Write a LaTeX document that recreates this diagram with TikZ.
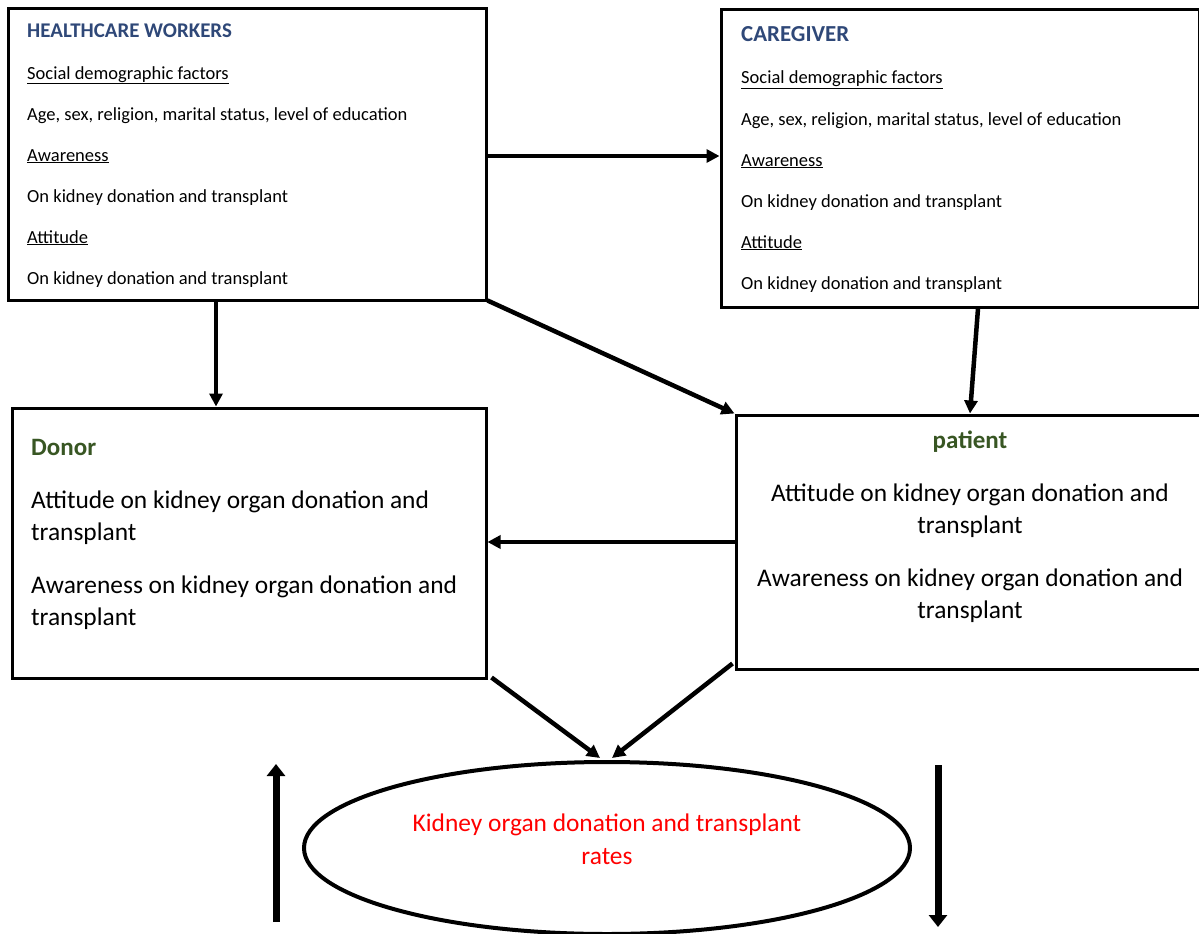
\documentclass[tikz,border=0pt]{standalone}
\usepackage{fontspec}
\setmainfont{Carlito}
\usetikzlibrary{shapes.geometric,arrows.meta,calc}
\definecolor{hblue}{RGB}{47,72,120}
\definecolor{dgreen}{RGB}{56,86,35}
\begin{document}
\begin{tikzpicture}[x=1pt,y=-1pt,
  boxx/.style={draw=black,line width=3pt,rectangle,inner sep=0pt},
  sm/.style={anchor=base west,inner sep=0pt,font=\fontsize{18.5}{21}\selectfont},
  big/.style={inner sep=0pt,font=\fontsize{25.4}{29}\selectfont},
  conn/.style={line width=4.5pt,-{Triangle[length=13pt,width=13pt]}},
]
\useasboundingbox (0,0) rectangle (1199,934);
% boxes
\node[boxx,minimum width=478pt,minimum height=291pt] (hcw) at (247,154.5) {};
\node[boxx,minimum width=478pt,minimum height=297pt] (cg) at (960,158.5) {};
\node[boxx,minimum width=474pt,minimum height=270pt] (donor) at (249,543) {};
\node[boxx,minimum width=464pt,minimum height=254pt] (patient) at (968,542) {};
\node[draw=black,line width=4pt,ellipse,minimum width=606pt,minimum height=172pt,inner sep=0pt] (ell) at (607,848) {};
% HCW texts
\node[sm,anchor=base west,font=\fontsize{20.9}{24}\selectfont\bfseries,text=hblue] (h0) at (27,38) {HEALTHCARE WORKERS};
\node[sm] (h1) at (27,79) {\underline{Social demographic factors}};
\node[sm] (h2) at (27,120) {Age, sex, religion, marital status, level of education};
\node[sm] (h3) at (27,161) {\underline{Awareness}};
\node[sm] (h4) at (27,202) {On kidney donation and transplant};
\node[sm] (h5) at (27,243) {\underline{Attitude}};
\node[sm] (h6) at (27,284) {On kidney donation and transplant};
% Caregiver texts
\node[sm,font=\fontsize{22.9}{26}\selectfont\bfseries,text=hblue] (c0) at (741,42) {CAREGIVER};
\node[sm] (c1) at (741,84) {\underline{Social demographic factors}};
\node[sm] (c2) at (741,125) {Age, sex, religion, marital status, level of education};
\node[sm] (c3) at (741,166) {\underline{Awareness}};
\node[sm] (c4) at (741,207) {On kidney donation and transplant};
\node[sm] (c5) at (741,248) {\underline{Attitude}};
\node[sm] (c6) at (741,289) {On kidney donation and transplant};
% Donor texts
\node[big,anchor=base west,font=\fontsize{25}{29}\selectfont\bfseries,text=dgreen] (d0) at (31,455) {Donor};
\node[big,anchor=base west] (d1) at (31,508) {Attitude on kidney organ donation and};
\node[big,anchor=base west] (d2) at (31,540) {transplant};
\node[big,anchor=base west] (d3) at (31,593) {Awareness on kidney organ donation and};
\node[big,anchor=base west] (d4) at (31,625) {transplant};
% Patient texts
\node[big,anchor=base,font=\fontsize{25}{29}\selectfont\bfseries,text=dgreen] (p0) at (970,448) {patient};
\node[big,anchor=base] (p1) at (970,501) {Attitude on kidney organ donation and};
\node[big,anchor=base] (p2) at (970,533) {transplant};
\node[big,anchor=base] (p3) at (970,586) {Awareness on kidney organ donation and};
\node[big,anchor=base] (p4) at (970,618) {transplant};
% Ellipse texts
\node[big,anchor=base,text=red] (e1) at (607,831) {Kidney organ donation and transplant};
\node[big,anchor=base,text=red] (e2) at (607,864) {rates};
% connectors
\draw[conn] ([yshift=-1.5pt]hcw.east) -- ([yshift=-1.5pt]hcw.east -| cg.west);
\draw[conn] ([xshift=-31pt]hcw.south) -- ([xshift=-31pt]hcw.south |- donor.north);
\draw[conn] ([yshift=1pt]hcw.south east) -- (patient.north west);
\draw[conn] ([xshift=18pt]cg.south) -- ([xshift=2pt]patient.north);
\draw[conn] (patient.west) -- (patient.west -| donor.east);
\draw[conn] ([shift={(4pt,2pt)}]donor.south east) -- ([shift={(-7pt,2pt)}]ell.north);
\draw[conn] ([shift={(-2pt,7pt)}]patient.south west) -- ([shift={(5pt,2pt)}]ell.north);
% free arrows
\coordinate (u1) at (276,922);
\coordinate (u2) at (276,764);
\coordinate (v1) at (938,765);
\coordinate (v2) at (938,927);
\draw[line width=7pt,-{Triangle[length=12pt,width=18pt]}] (u1) -- (u2);
\draw[line width=7pt,-{Triangle[length=12pt,width=18pt]}] (v1) -- (v2);
\end{tikzpicture}
\end{document}
